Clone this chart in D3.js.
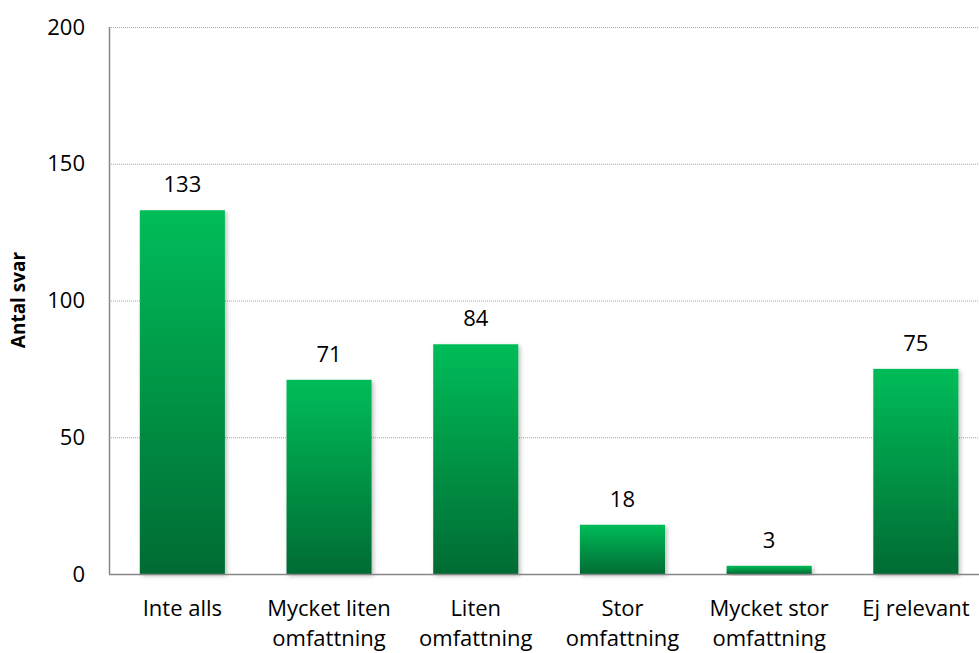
<!DOCTYPE html>
<html lang="sv">
<head>
  <meta charset="UTF-8">
  <title>Antal svar</title>
  <script src="https://d3js.org/d3.v7.min.js"></script>
  <style>
    body { margin: 0; background: #fff; }
    text { font-family: "Open Sans", "Noto Sans", sans-serif; fill: #000; }
    .grid line { stroke: #a6a6a6; stroke-dasharray: 1 1; }
    .tick-label { font-size: 22px; }
    .cat-label { font-size: 22px; }
    .val-label { font-size: 22px; }
    .ytitle { font-size: 19px; font-weight: bold; }
  </style>
</head>
<body>
  <svg id="chart" width="979" height="653"></svg>
  <script>
    // data
    const categories = [
      ['Inte alls'],
      ['Mycket liten', 'omfattning'],
      ['Liten', 'omfattning'],
      ['Stor', 'omfattning'],
      ['Mycket stor', 'omfattning'],
      ['Ej relevant']
    ];
    const values = [133, 71, 84, 18, 3, 75];
    const yTicks = [0, 50, 100, 150, 200];

    const svg = d3.select('#chart');
    const plotLeft = 109, plotTop = 27, plotBottom = 574;
    const bandW = 146.7;

    const x = d3.scaleBand()
      .domain(d3.range(values.length))
      .range([plotLeft, plotLeft + bandW * values.length])
      .paddingInner(0.42)
      .paddingOuter(0.21);

    const y = d3.scaleLinear().domain([0, 200]).range([plotBottom, plotTop]);

    // gradient for bars
    const defs = svg.append('defs');
    const grad = defs.append('linearGradient')
      .attr('id', 'barGrad')
      .attr('x1', 0).attr('y1', 0).attr('x2', 0).attr('y2', 1);
    grad.append('stop').attr('offset', '0%').attr('stop-color', '#00bd59');
    grad.append('stop').attr('offset', '100%').attr('stop-color', '#006b33');

    const shadow = defs.append('filter').attr('id', 'shadow')
      .attr('x', '-10%').attr('y', '-10%').attr('width', '130%').attr('height', '130%');
    shadow.append('feDropShadow')
      .attr('dx', 2).attr('dy', 2).attr('stdDeviation', 2)
      .attr('flood-color', '#000').attr('flood-opacity', 0.25);

    // gridlines
    svg.append('g').attr('class', 'grid')
      .selectAll('line')
      .data(yTicks.filter(d => d > 0))
      .join('line')
      .attr('x1', plotLeft).attr('x2', 979)
      .attr('y1', d => y(d) + 0.5).attr('y2', d => y(d) + 0.5);

    // y tick labels
    svg.append('g')
      .selectAll('text')
      .data(yTicks)
      .join('text')
      .attr('class', 'tick-label')
      .attr('x', plotLeft - 24)
      .attr('y', d => y(d))
      .attr('dy', '0.35em')
      .attr('text-anchor', 'end')
      .text(d => d);

    // bars
    svg.append('g')
      .selectAll('rect')
      .data(values)
      .join('rect')
      .attr('x', (d, i) => x(i))
      .attr('y', d => y(d))
      .attr('width', x.bandwidth())
      .attr('height', d => plotBottom - y(d))
      .attr('fill', 'url(#barGrad)')
      .attr('filter', 'url(#shadow)');

    // value labels
    svg.append('g')
      .selectAll('text')
      .data(values)
      .join('text')
      .attr('class', 'val-label')
      .attr('x', (d, i) => x(i) + x.bandwidth() / 2)
      .attr('y', d => y(d) - 18)
      .attr('text-anchor', 'middle')
      .text(d => d);

    // axes lines
    svg.append('line')
      .attr('x1', plotLeft + 0.5).attr('x2', plotLeft + 0.5)
      .attr('y1', plotTop).attr('y2', plotBottom)
      .attr('stroke', '#868686').attr('stroke-width', 1.5);
    svg.append('line')
      .attr('x1', plotLeft).attr('x2', 979)
      .attr('y1', plotBottom + 0.5).attr('y2', plotBottom + 0.5)
      .attr('stroke', '#868686').attr('stroke-width', 1.5);

    // category labels
    const cat = svg.append('g')
      .selectAll('text')
      .data(categories)
      .join('text')
      .attr('class', 'cat-label')
      .attr('text-anchor', 'middle')
      .attr('x', (d, i) => x(i) + x.bandwidth() / 2)
      .attr('y', 616);
    cat.selectAll('tspan')
      .data(d => d)
      .join('tspan')
      .attr('x', function () { return this.parentNode.getAttribute('x'); })
      .attr('dy', (d, i) => i === 0 ? 0 : 30)
      .text(d => d);

    // y axis title
    svg.append('text')
      .attr('class', 'ytitle')
      .attr('transform', 'translate(25,' + 300 + ') rotate(-90)')
      .attr('text-anchor', 'middle')
      .text('Antal svar');
  </script>
</body>
</html>
